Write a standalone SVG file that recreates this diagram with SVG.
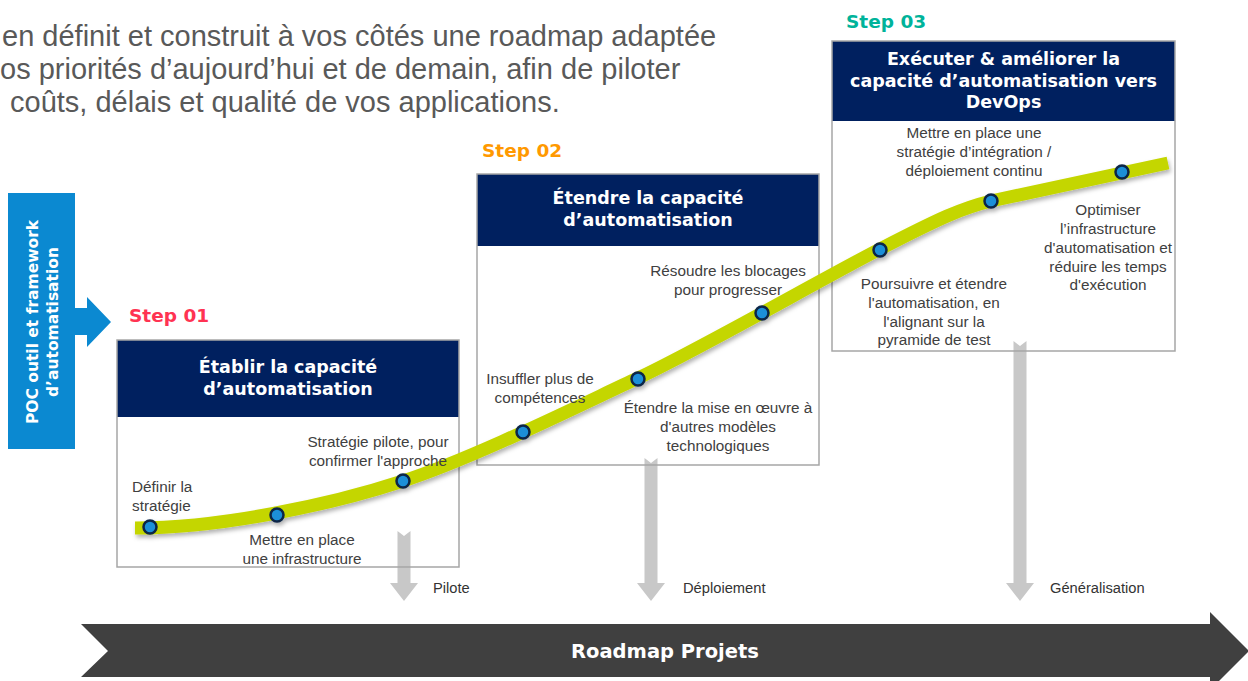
<svg xmlns="http://www.w3.org/2000/svg" width="1248" height="681" viewBox="0 0 1248 681">
<defs>
<filter id="sh" x="-5%" y="-20%" width="110%" height="140%">
<feDropShadow dx="1.5" dy="3" stdDeviation="2" flood-color="#000" flood-opacity="0.3"/>
</filter>
<style>
.intro{font-family:"Liberation Sans",Arial,sans-serif;font-size:29px;fill:#595959}
.body{font-family:"Liberation Sans",Arial,sans-serif;font-size:15.3px;fill:#404040;text-anchor:middle}
.lbl{font-family:"Liberation Sans",Arial,sans-serif;font-size:14.7px;fill:#333}
.hdr{fill:#00205F}
.frame{fill:none;stroke:#A6A6A6;stroke-width:1.5}
.title{font-family:"DejaVu Sans",Verdana,sans-serif;font-weight:bold;font-size:17.5px;fill:#fff;text-anchor:middle}
.step{font-family:"DejaVu Sans",Verdana,sans-serif;font-weight:bold;font-size:18.5px}
.down{fill:#C8C8C8}
.dot{fill:#1A8FD8;stroke:#0B2547;stroke-width:2.5}
</style>
</defs>
<rect width="1248" height="681" fill="#fff"/>

<g id="intro">
<text class="intro" x="2" y="46">en définit et construit à vos côtés une roadmap adaptée</text>
<text class="intro" x="0" y="79">os priorités d’aujourd’hui et de demain, afin de piloter</text>
<text class="intro" x="10" y="112">coûts, délais et qualité de vos applications.</text>
</g>

<g id="connectors">
<polygon class="down" points="397.5,531 404,536 410.5,531 410.5,583 418,583 404,601 390,583 397.5,583"/>
<polygon class="down" points="644.5,458 651,463 657.5,458 657.5,583 665,583 651,601 637,583 644.5,583"/>
<polygon class="down" points="1013.5,341 1020,346 1026.5,341 1026.5,583 1034,583 1020,601 1006,583 1013.5,583"/>
<text class="lbl" x="433" y="593">Pilote</text>
<text class="lbl" x="683" y="593">Déploiement</text>
<text class="lbl" x="1050" y="593">Généralisation</text>
</g>

<g id="poc">
<polygon fill="#0B89D1" points="8,193 75,193 75,308 87,308 87,297 111,322 87,347 87,335 75,335 75,449 8,449"/>
<text transform="translate(38,322) rotate(-90)" font-family="DejaVu Sans,Verdana,sans-serif" font-weight="bold" font-size="15.5" fill="#fff" text-anchor="middle"><tspan x="0" y="0">POC outil et framework</tspan><tspan x="0" y="20">d’automatisation</tspan></text>
</g>

<g id="step1">
<text class="step" x="129" y="322" fill="#FF3352">Step 01</text>
<rect class="hdr" x="117" y="340" width="342" height="77"/>
<rect class="frame" x="117" y="340" width="342" height="227"/>
<text class="title" x="288" y="373">Établir la capacité</text>
<text class="title" x="288" y="395">d’automatisation</text>
</g>

<g id="step2">
<text class="step" x="482" y="157" fill="#FF9900">Step 02</text>
<rect class="hdr" x="477" y="174" width="342" height="72"/>
<rect class="frame" x="477" y="174" width="342" height="291"/>
<text class="title" x="648" y="204">Étendre la capacité</text>
<text class="title" x="648" y="226">d’automatisation</text>
</g>

<g id="step3">
<text class="step" x="846" y="28" fill="#00B39A">Step 03</text>
<rect class="hdr" x="832" y="41" width="343" height="80"/>
<rect class="frame" x="832" y="41" width="343" height="310"/>
<text class="title" x="1003.5" y="65">Exécuter &amp; améliorer la</text>
<text class="title" x="1003.5" y="87">capacité d’automatisation vers</text>
<text class="title" x="1003.5" y="108">DevOps</text>
</g>

<g id="curve" filter="url(#sh)">
<path d="M135,528 C220,528 330,505 403,481 S580,405 638,378 S820,280 880,249 S962,208 991,201 L1168,163" fill="none" stroke="#C4D600" stroke-width="13"/>
<circle class="dot" cx="150" cy="527" r="6.5"/>
<circle class="dot" cx="277" cy="515" r="6.5"/>
<circle class="dot" cx="403" cy="481" r="6.5"/>
<circle class="dot" cx="523" cy="432" r="6.5"/>
<circle class="dot" cx="638" cy="379" r="6.5"/>
<circle class="dot" cx="762" cy="313" r="6.5"/>
<circle class="dot" cx="880" cy="250" r="6.5"/>
<circle class="dot" cx="991" cy="201" r="6.5"/>
<circle class="dot" cx="1122" cy="172" r="6.5"/>
</g>

<g id="milestones">
<text class="body" x="132" y="492" style="text-anchor:start">Définir la</text>
<text class="body" x="132" y="511" style="text-anchor:start">stratégie</text>
<text class="body" x="378" y="447">Stratégie pilote, pour</text>
<text class="body" x="378" y="466">confirmer l'approche</text>
<text class="body" x="302" y="545">Mettre en place</text>
<text class="body" x="302" y="564">une  infrastructure</text>
<text class="body" x="728" y="276">Résoudre les blocages</text>
<text class="body" x="728" y="295">pour progresser</text>
<text class="body" x="540" y="384">Insuffler plus de</text>
<text class="body" x="540" y="403">compétences</text>
<text class="body" x="718" y="413">Étendre la mise en œuvre à</text>
<text class="body" x="718" y="432">d'autres modèles</text>
<text class="body" x="718" y="451">technologiques</text>
<text class="body" x="974" y="138">Mettre en place une</text>
<text class="body" x="974" y="157">stratégie d’intégration /</text>
<text class="body" x="974" y="176">déploiement  continu</text>
<text class="body" x="934" y="289">Poursuivre et étendre</text>
<text class="body" x="934" y="308">l'automatisation, en</text>
<text class="body" x="934" y="327">l'alignant sur la</text>
<text class="body" x="934" y="345">pyramide de test</text>
<text class="body" x="1108" y="215">Optimiser</text>
<text class="body" x="1108" y="234">l’infrastructure</text>
<text class="body" x="1108" y="253">d'automatisation et</text>
<text class="body" x="1108" y="272">réduire les temps</text>
<text class="body" x="1108" y="290">d'exécution</text>
</g>

<g id="roadmap">
<polygon fill="#404040" points="81,624 1210,624 1210,612 1249,651 1210,690 1210,677 81,677 108,651"/>
<text x="665" y="658" font-family="DejaVu Sans,Verdana,sans-serif" font-weight="bold" font-size="19.5" fill="#fff" text-anchor="middle">Roadmap Projets</text>
</g>
</svg>
